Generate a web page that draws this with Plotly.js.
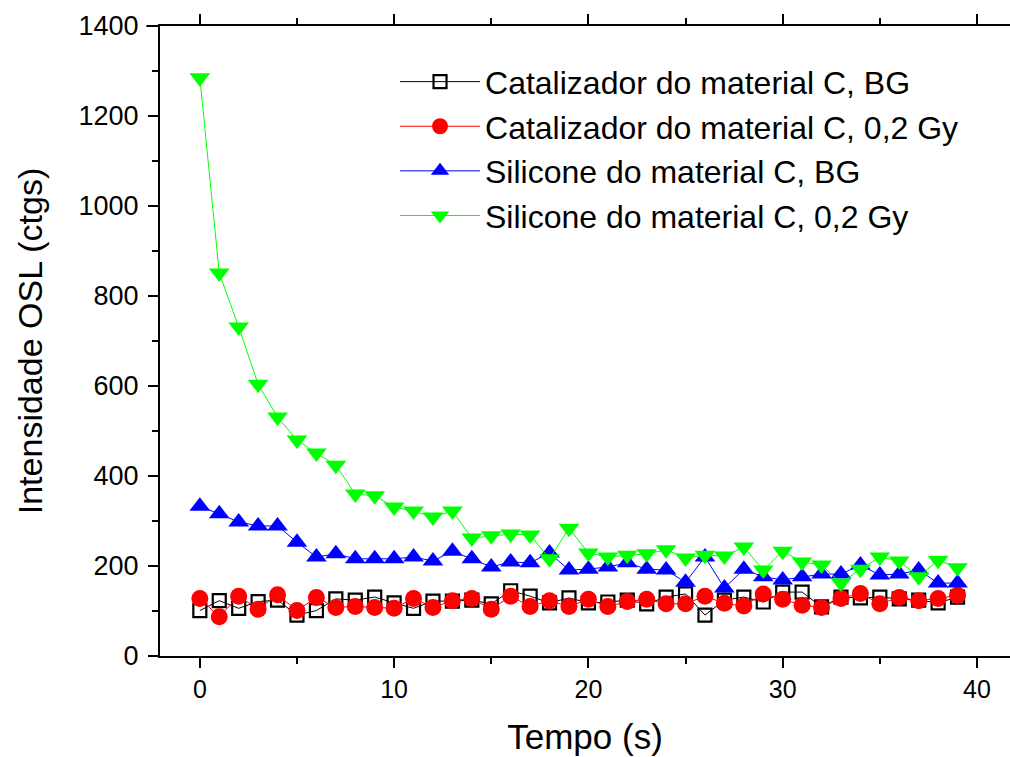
<!DOCTYPE html>
<html>
<head>
<meta charset="utf-8">
<script src="https://cdn.plot.ly/plotly-3.0.1.min.js"></script>
<style>html,body{margin:0;padding:0;background:#fff;}#chart{width:1010px;height:757px;}</style>
</head>
<body>
<div id="chart"></div>
<script>
const tempo = [0,1,2,3,4,5,6,7,8,9,10,11,12,13,14,15,16,17,18,19,20,21,22,23,24,25,26,27,28,29,30,31,32,33,34,35,36,37,38,39];
const catalizadorBG = [101,123,106,121,124,91,101,127,124,131,118,106,122,122,124,116,145,133,118,129,118,120,124,116,131,138,91,124,131,120,142,142,109,131,129,131,127,124,118,131];
const catalizador02 = [128,87,133,104,136,101,130,108,110,108,106,128,108,123,128,104,133,110,123,110,126,110,121,126,116,116,133,117,111,138,126,113,108,128,139,116,130,123,128,135];
const siliconeBG = [333,316,298,289,289,253,220,227,216,216,216,220,211,233,216,198,209,207,229,191,193,198,207,193,191,164,220,151,193,176,169,176,182,182,202,180,182,191,162,162];
const silicone02 = [1285,851,731,604,531,480,451,424,360,356,331,322,309,322,262,267,271,269,216,284,229,220,224,227,236,218,224,222,242,191,233,209,202,162,193,220,211,176,213,196];
const nomes = ["Catalizador do material C, BG","Catalizador do material C, 0,2 Gy","Silicone do material C, BG","Silicone do material C, 0,2 Gy"];

const traces = [
  {x: tempo, y: catalizadorBG, name: nomes[0], mode: 'lines+markers',
   line: {color: '#000000', width: 1},
   marker: {symbol: 'square-open', size: 13, color: '#000000', line: {width: 2.2, color: '#000000'}}},
  {x: tempo, y: catalizador02, name: nomes[1], mode: 'lines+markers',
   line: {color: '#ff0000', width: 1},
   marker: {symbol: 'circle', size: 17, color: '#ff0000'}},
  {x: tempo, y: siliconeBG, name: nomes[2], mode: 'lines+markers',
   line: {color: '#0000ff', width: 1},
   marker: {symbol: 'triangle-up', size: 18, color: '#0000ff'}},
  {x: tempo, y: silicone02, name: nomes[3], mode: 'lines+markers',
   line: {color: '#00ff00', width: 1},
   marker: {symbol: 'triangle-down', size: 18, color: '#00ff00'}}
];

const font = 'Liberation Sans, Arial, sans-serif';
const layout = {
  width: 1010, height: 757,
  margin: {l: 160, r: 0, t: 26, b: 101},
  paper_bgcolor: '#ffffff', plot_bgcolor: '#ffffff',
  showlegend: true,
  legend: {x: 0.2765, y: 0.955, xanchor: 'left', yanchor: 'top',
           font: {family: font, size: 32, color: '#000'}, bgcolor: 'rgba(0,0,0,0)',
           tracegroupgap: 0, itemwidth: 80},
  shapes: [
    {type: 'line', xref: 'paper', yref: 'paper', x0: -0.016, x1: 0, y0: 1, y1: 1,
     line: {color: '#000', width: 2}, layer: 'above'}
  ],
  xaxis: {
    range: [-2.05, 41.7], showgrid: false, zeroline: false,
    showline: true, linecolor: '#000', linewidth: 2, mirror: 'ticks',
    ticks: 'outside', ticklen: 10, tickwidth: 2, tickcolor: '#000',
    dtick: 10, tick0: 0,
    minor: {dtick: 5, ticks: 'outside', ticklen: 6, tickwidth: 2, tickcolor: '#000'},
    tickfont: {family: font, size: 25, color: '#000'},
    title: {text: 'Tempo (s)', font: {family: font, size: 35, color: '#000'}, standoff: 22}
  },
  yaxis: {
    range: [0, 1400], showgrid: false, zeroline: false,
    showline: true, linecolor: '#000', linewidth: 2,
    ticks: 'outside', ticklen: 10, tickwidth: 2, tickcolor: '#000',
    dtick: 200, tick0: 0, ticklabelstandoff: 4,
    minor: {dtick: 100, ticks: 'outside', ticklen: 6, tickwidth: 2, tickcolor: '#000'},
    tickfont: {family: font, size: 27, color: '#000'},
    title: {text: 'Intensidade OSL (ctgs)', font: {family: font, size: 34, color: '#000'}, standoff: 26}
  }
};

Plotly.newPlot('chart', traces, layout, {displayModeBar: false, staticPlot: true});
</script>
</body>
</html>
